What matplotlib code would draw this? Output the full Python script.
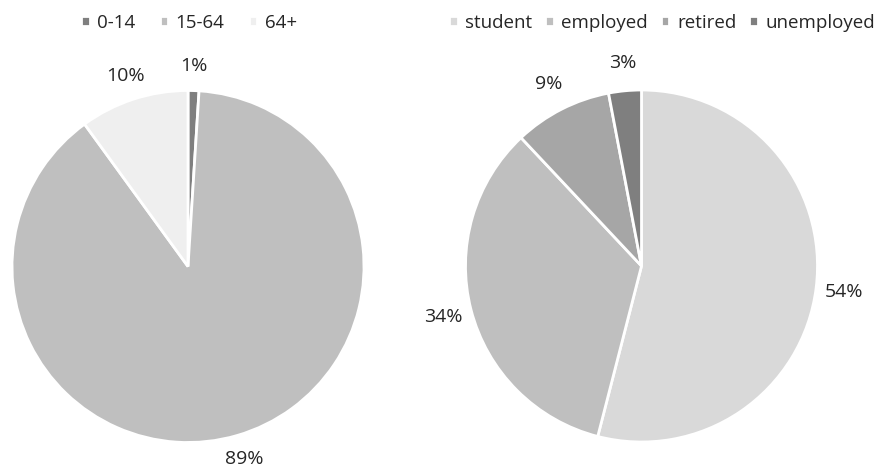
import matplotlib.pyplot as plt

plt.rcParams["font.family"] = ["Open Sans", "DejaVu Sans"]

# age groups (left pie)
age_labels = ["0-14", "15-64", "64+"]
age_values = [1, 89, 10]
age_colors = ["#7f7f7f", "#bfbfbf", "#efefef"]

# occupation (right pie)
job_labels = ["student", "employed", "retired", "unemployed"]
job_values = [54, 34, 9, 3]
job_colors = ["#d9d9d9", "#bfbfbf", "#a6a6a6", "#7f7f7f"]

W, H = 883, 468
fig = plt.figure(figsize=(W / 100, H / 100), dpi=100)


def pie_axes(cx, cy, r):
    # pixel center/radius -> figure fraction axes
    return fig.add_axes([(cx - r) / W, (H - cy - r) / H, 2 * r / W, 2 * r / H])


def draw_pie(ax, values, colors, pctdist):
    wedges, _, autotexts = ax.pie(
        values,
        colors=colors,
        startangle=90,
        counterclock=False,
        autopct="%d%%",
        pctdistance=pctdist,
        wedgeprops=dict(edgecolor="white", linewidth=2),
        textprops=dict(fontsize=14, color="#262626"),
    )
    for t, v in zip(autotexts, values):
        t.set_text(f"{v}%")
    ax.set_xlim(-1, 1)
    ax.set_ylim(-1, 1)
    ax.set_aspect("auto")
    ax.axis("off")
    return wedges


ax1 = pie_axes(188, 266.5, 176)
w1 = draw_pie(ax1, age_values, age_colors, 1.14)
ax2 = pie_axes(641.5, 266, 176)
w2 = draw_pie(ax2, job_values, job_colors, 1.16)

leg_kw = dict(
    frameon=False,
    handlelength=0.45,
    handleheight=0.45,
    handletextpad=0.4,
    columnspacing=0.7,
    fontsize=13.5,
    labelcolor="#262626",
    loc="center",
    borderpad=0.1,
)
fig.legend(w1, age_labels, ncol=3, columnspacing=1.3, bbox_to_anchor=(189 / W, 1 - 23 / H),
           **{k: v for k, v in leg_kw.items() if k != "columnspacing"})
fig.legend(w2, job_labels, ncol=4, bbox_to_anchor=(662 / W, 1 - 23 / H), **leg_kw)

fig.savefig("out.png", dpi=100)
